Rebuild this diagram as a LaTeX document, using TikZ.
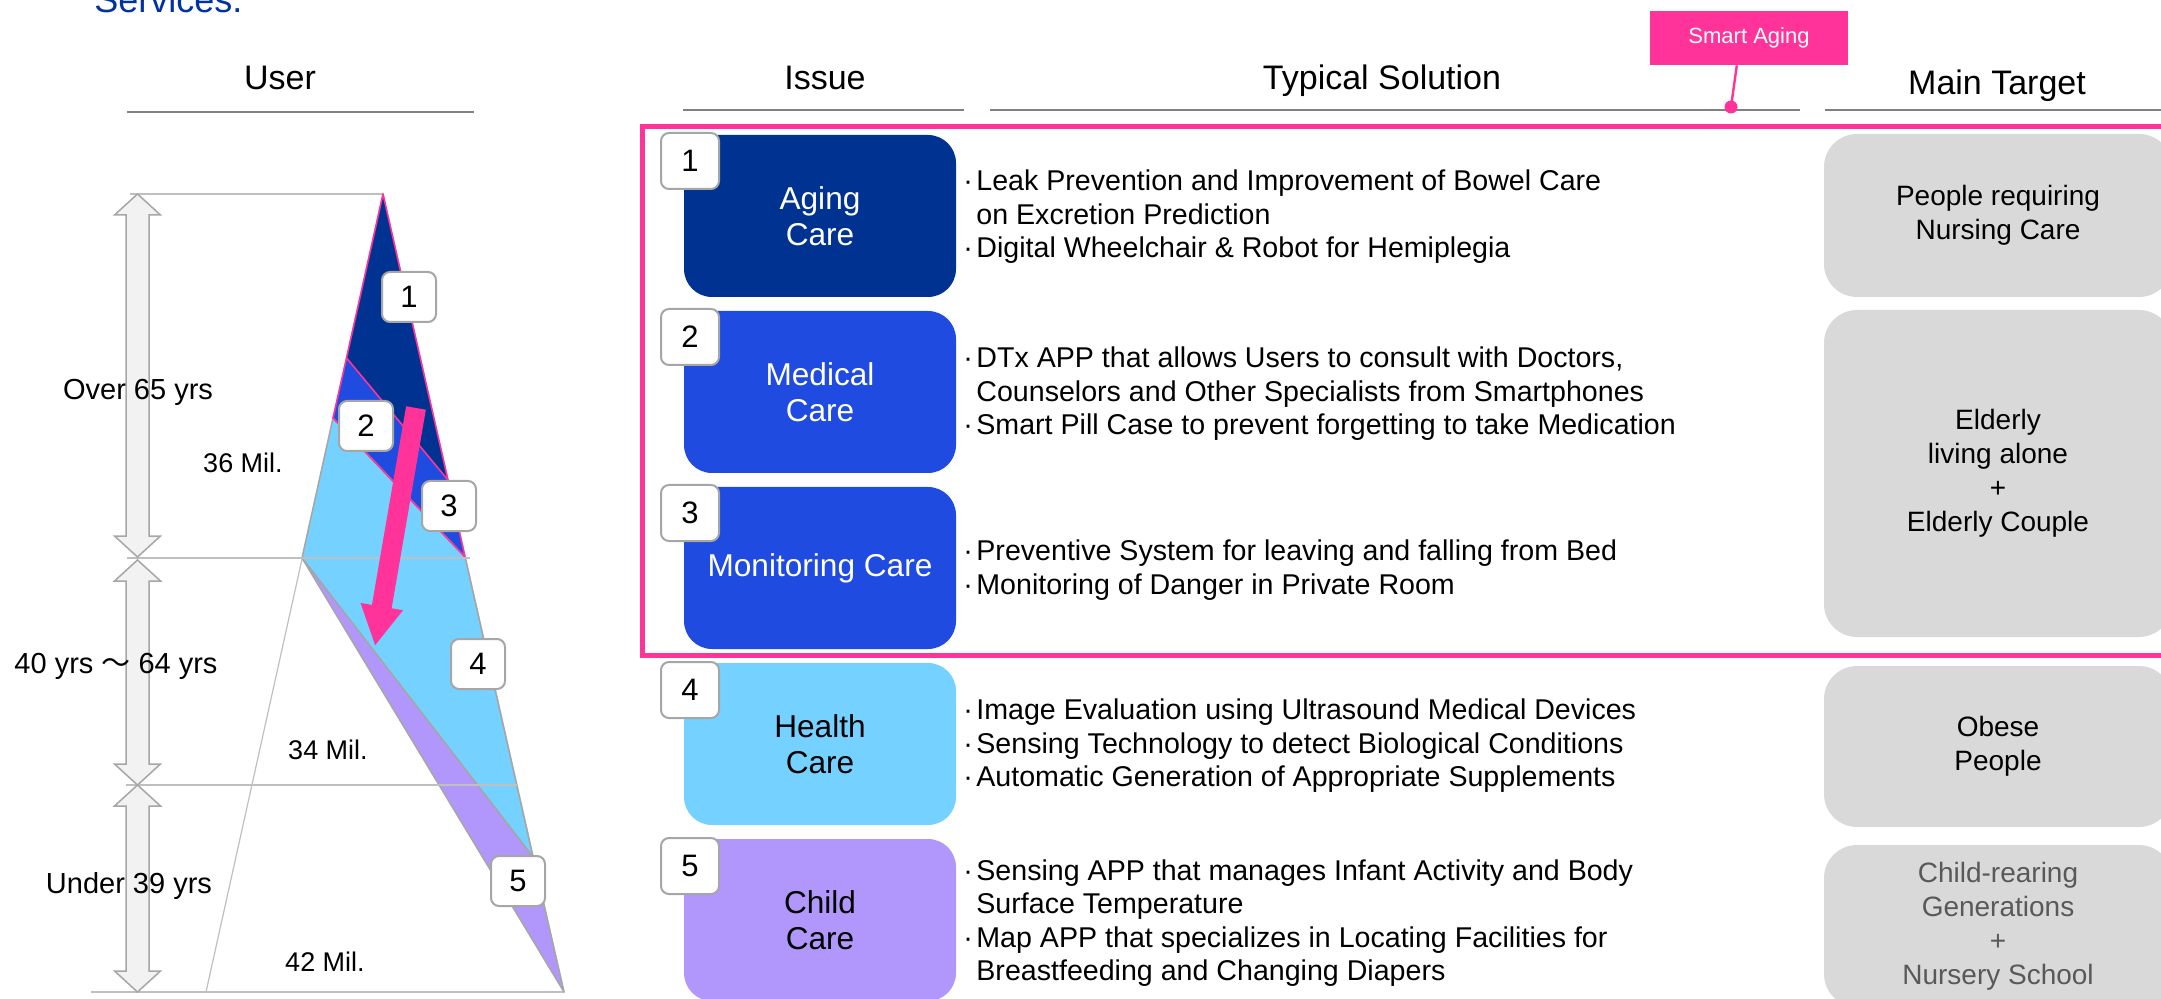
\documentclass[tikz,border=0pt]{standalone}
\usepackage{fontspec}
\setmainfont{Liberation Sans}
\newfontfamily\cjkfont{Noto Sans CJK JP}
\usetikzlibrary{arrows.meta,calc}
\definecolor{cnavy}{HTML}{003391}
\definecolor{cmidblue}{HTML}{1F4BE0}
\definecolor{cskyblue}{HTML}{75D1FF}
\definecolor{clavender}{HTML}{B197FC}
\definecolor{hotpink}{HTML}{FF3399}
\definecolor{tgray}{HTML}{D9D9D9}
\definecolor{tdark}{HTML}{595959}
\definecolor{linegray}{HTML}{A6A6A6}
\definecolor{lightline}{HTML}{BFBFBF}
\definecolor{ulgray}{HTML}{808080}
\definecolor{arrowfill}{HTML}{F2F2F2}
\definecolor{titleblue}{HTML}{0033A0}
\newcommand\solbul{\makebox[6.5pt][l]{\textperiodcentered}}
\newcommand\solind{\hspace*{6.5pt}}
\newcommand\vdarrow[3]{%
  \draw[dblarrow] (#1,#2) -- (#1+23,#2+21) -- (#1+11.5,#2+21) -- (#1+11.5,#3-21) -- (#1+23,#3-21) -- (#1,#3) -- (#1-23,#3-21) -- (#1-11.5,#3-21) -- (#1-11.5,#2+21) -- (#1-23,#2+21) -- cycle;}
\begin{document}
\begin{tikzpicture}[x=0.5pt,y=-0.5pt,
  issuebox/.style={rectangle, rounded corners=14pt, minimum width=136pt, minimum height=81pt, inner sep=0pt, align=center, font=\fontsize{15.8}{18}\selectfont},
  numbox/.style={rectangle, rounded corners=4pt, draw=linegray, line width=1pt, fill=white, minimum width=29pt, minimum height=28pt, inner sep=0pt, font=\fontsize{15.5}{18}\selectfont},
  pnumbox/.style={numbox, minimum width=27pt, minimum height=25pt},
  soltext/.style={anchor=west, align=left, inner sep=0pt, font=\fontsize{14.3}{16.75}\selectfont},
  tbox/.style={rectangle, rounded corners=16.5pt, fill=tgray, minimum width=174pt, inner sep=0pt, align=center, font=\fontsize{14}{17}\selectfont},
  header/.style={anchor=base, inner sep=0pt, font=\fontsize{17}{20}\selectfont},
  uline/.style={draw=ulgray, line width=1pt},
  gline/.style={draw=lightline, line width=0.75pt},
  dblarrow/.style={fill=arrowfill, draw=linegray, line width=0.75pt},
  lbl/.style={anchor=base, inner sep=0pt, font=\fontsize{14.5}{17}\selectfont},
  mil/.style={anchor=base, inner sep=0pt, font=\fontsize{13.5}{16}\selectfont},
  pinkedge/.style={draw=hotpink, line width=0.8pt, line join=round}
]
\useasboundingbox (0,0) rectangle (2161,999);
\clip (0,0) rectangle (2161,999);

% title (cut at top, as in the reference)
\node[anchor=base west, inner sep=0pt, text=titleblue, font=\fontsize{18}{20}\selectfont] (title) at (94,13) {Services.};

% headers
\node[header] (hUser) at (280,90) {User};
\node[header] (hIssue) at (825,90) {Issue};
\node[header] (hSol) at (1382,90) {Typical Solution};
\node[header] (hTarget) at (1997,95) {Main Target};
\draw[uline] (127,112) -- (474,112);
\draw[uline] (683,110) -- (964,110);
\draw[uline] (990,110) -- (1800,110);
\draw[uline] (1825,110) -- (2161,110);

% smart aging callout
\node[fill=hotpink, minimum width=99pt, minimum height=27pt, inner sep=0pt, text=white, font=\fontsize{11}{13}\selectfont] (sa) at (1749,38) {Smart Aging};
\node[circle, fill=hotpink, inner sep=0pt, minimum size=6.5pt] (sadot) at (1731,107) {};
\draw[hotpink, line width=1.2pt] (sa.-114) -- (sadot.center);

% pink frame
\draw[hotpink, line width=2.5pt] (642,127) rectangle (2190,655);

% issue boxes
\node[issuebox, fill=cnavy, text=white] (i1) at (820,216) {Aging\\Care};
\node[issuebox, fill=cmidblue, text=white] (i2) at (820,392) {Medical\\Care};
\node[issuebox, fill=cmidblue, text=white] (i3) at (820,568) {Monitoring Care};
\node[issuebox, fill=cskyblue] (i4) at (820,744) {Health\\Care};
\node[issuebox, fill=clavender] (i5) at (820,920) {Child\\Care};
\node[numbox] (n1) at (690,161) {1};
\node[numbox] (n2) at (690,337) {2};
\node[numbox] (n3) at (690,513) {3};
\node[numbox] (n4) at (690,690) {4};
\node[numbox] (n5) at (690,866) {5};

% solutions
\node[soltext] (s1) at (963,217) {\solbul Leak Prevention and Improvement of Bowel Care\\\solind on Excretion Prediction\\\solbul Digital Wheelchair \& Robot for Hemiplegia};
\node[soltext] (s2) at (963,394) {\solbul DTx APP that allows Users to consult with Doctors,\\\solind Counselors and Other Specialists from Smartphones\\\solbul Smart Pill Case to prevent forgetting to take Medication};
\node[soltext] (s3) at (963,570) {\solbul Preventive System for leaving and falling from Bed\\\solbul Monitoring of Danger in Private Room};
\node[soltext] (s4) at (963,746) {\solbul Image Evaluation using Ultrasound Medical Devices\\\solbul Sensing Technology to detect Biological Conditions\\\solbul Automatic Generation of Appropriate Supplements};
\node[soltext] (s5) at (963,923) {\solbul Sensing APP that manages Infant Activity and Body\\\solind Surface Temperature\\\solbul Map APP that specializes in Locating Facilities for\\\solind Breastfeeding and Changing Diapers};

% targets
\node[tbox, minimum height=81.5pt] (t1) at (1998,215.5) {People requiring\\Nursing Care};
\node[tbox, minimum height=163.5pt] (t2) at (1998,473.5) {Elderly\\living alone\\+\\Elderly Couple};
\node[tbox, minimum height=81pt, text=tdark] (t4) at (1998,926) {Child-rearing\\Generations\\+\\Nursery School};
\node[tbox, minimum height=80.5pt] (t3) at (1998,746.5) {Obese\\People};

% pyramid
\coordinate (A) at (383,194);
\coordinate (P1) at (346.5,358);
\coordinate (Q1) at (448,480);
\coordinate (P2) at (333,418);
\coordinate (Q2) at (465,557);
\coordinate (C) at (302,558);
\coordinate (Q3) at (533,857);
\coordinate (B) at (564,992);
\coordinate (BL) at (206,992);
\draw[draw=lightline, line width=0.6pt] (A) -- (BL) -- (B) -- cycle;
\draw[gline] (130,194) -- (A);
\draw[gline] (91,992) -- (B);
\fill[cnavy] (A) -- (P1) -- (Q1) -- cycle;
\fill[cmidblue] (P1) -- (P2) -- (Q2) -- (Q1) -- cycle;
\filldraw[fill=cskyblue, draw=linegray, line width=0.75pt, line join=round] (P2) -- (C) -- (Q3) -- (Q2) -- cycle;
\filldraw[fill=clavender, draw=linegray, line width=0.75pt, line join=round] (C) -- (B) -- (Q3) -- cycle;
\draw[pinkedge] (A) -- (P1) -- (P2) -- (Q2) -- (Q1) -- cycle;
\draw[pinkedge] (P1) -- (Q1);
\draw[gline] (127,558) -- (470,558);
\draw[gline] (126,785) -- (517,785);

% pink arrow
\coordinate (pa1) at (416,408);
\coordinate (pa2) at (375,646);
\draw[hotpink, line width=10pt, -{Triangle[width=20pt,length=20pt]}] (pa1) -- (pa2);

% pyramid number boxes
\node[pnumbox] (p1) at (409,297) {1};
\node[pnumbox] (p2) at (366,426) {2};
\node[pnumbox] (p3) at (449,506) {3};
\node[pnumbox] (p4) at (478,664) {4};
\node[pnumbox] (p5) at (518,881) {5};

% age arrows
\vdarrow{137.5}{194}{557}
\vdarrow{137.5}{560}{785}
\vdarrow{137.5}{785}{992}

% labels
\node[lbl] (lOver) at (138,400) {Over 65 yrs};
\node[lbl] (l40) at (116,673) {40 yrs {\cjkfont ～} 64 yrs};
\node[lbl] (lUnder) at (129,893) {Under 39 yrs};
\node[mil] (m36) at (243,473) {36 Mil.};
\node[mil] (m34) at (328,759) {34 Mil.};
\node[mil] (m42) at (325,971) {42 Mil.};
\end{tikzpicture}
\end{document}
